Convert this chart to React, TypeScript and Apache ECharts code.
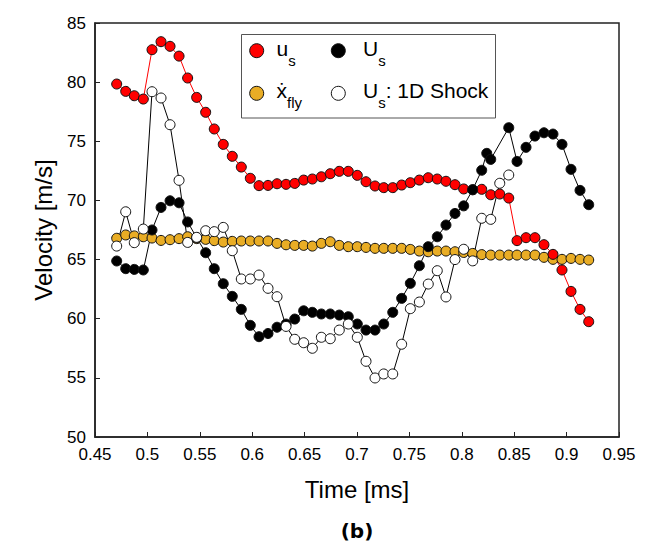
import React, { useEffect, useRef } from "react";
import * as echarts from "echarts";

// Time [ms] sample instants (shared by u_s, x_fly, Us 1D shock)
const times = [
  0.4707, 0.4793, 0.4875, 0.4961, 0.5044, 0.513, 0.5216, 0.5302, 0.5384, 0.547,
  0.5556, 0.5638, 0.5724, 0.581, 0.5896, 0.5982, 0.6065, 0.6151, 0.6237, 0.6323,
  0.6406, 0.6491, 0.6574, 0.666, 0.6745, 0.6831, 0.6917, 0.7003, 0.7086, 0.7172,
  0.7255, 0.7341, 0.7426, 0.7509, 0.7595, 0.768, 0.7766, 0.7849, 0.7935, 0.8018,
  0.8104, 0.819, 0.8276, 0.8362, 0.8448, 0.8527, 0.8613, 0.8698, 0.8784, 0.887,
  0.8956, 0.9042, 0.9128, 0.9211,
];

// u_s (red)
const usSmall = [
  79.84, 79.22, 78.85, 78.57, 82.74, 83.42, 83.03, 82.2, 80.35, 78.71,
  77.45, 76.04, 74.74, 73.73, 72.82, 71.87, 71.25, 71.27, 71.41, 71.36,
  71.44, 71.72, 71.81, 72.0, 72.26, 72.46, 72.46, 72.12, 71.58, 71.22,
  71.08, 71.08, 71.3, 71.5, 71.72, 71.92, 71.81, 71.62, 71.33, 70.97,
  70.9, 70.94, 70.48, 70.54, 70.2, 66.6, 66.85, 66.85, 66.26, 65.44,
  64.12, 62.31, 60.79, 59.75,
];

// x_fly (orange)
const xFly = [
  66.8, 67.08, 67.0, 66.93, 66.82, 66.62, 66.68, 66.77, 66.93, 66.77,
  66.71, 66.6, 66.48, 66.54, 66.57, 66.57, 66.57, 66.57, 66.37, 66.25,
  66.2, 66.2, 66.14, 66.37, 66.51, 66.2, 66.09, 66.09, 66.03, 65.95,
  65.95, 65.95, 65.95, 65.86, 65.72, 65.66, 65.72, 65.72, 65.66, 65.6,
  65.52, 65.42, 65.38, 65.38, 65.38, 65.38, 65.38, 65.38, 65.19, 65.02,
  65.02, 65.1, 65.02, 64.96,
];

// U_s (black)
const usBigTimes = [
  0.4707, 0.4793, 0.4875, 0.4961, 0.5044, 0.513, 0.5216, 0.5302, 0.5384, 0.547,
  0.5556, 0.5638, 0.5724, 0.581, 0.5896, 0.5982, 0.6065, 0.6151, 0.6237, 0.6323,
  0.6406, 0.6491, 0.6574, 0.666, 0.6745, 0.6831, 0.6917, 0.7003, 0.7086, 0.7172,
  0.7255, 0.7341, 0.7426, 0.7509, 0.7595, 0.768, 0.7766, 0.7849, 0.7935, 0.8018,
  0.8104, 0.819, 0.8238, 0.8276, 0.8448, 0.8527, 0.8613, 0.8698, 0.8784, 0.887,
  0.8956, 0.9042, 0.9128, 0.9211,
];
const usBig = [
  64.88, 64.23, 64.17, 64.12, 67.5, 69.41, 69.97, 69.8, 68.18, 66.85,
  65.58, 64.23, 62.96, 61.89, 60.79, 59.44, 58.48, 58.75, 59.28, 59.55,
  59.97, 60.67, 60.54, 60.4, 60.4, 60.31, 60.17, 59.55, 59.04, 59.04,
  59.55, 60.54, 61.72, 62.99, 64.48, 66.09, 66.93, 67.92, 68.9, 69.54,
  70.91, 72.55, 73.98, 73.47, 76.15, 73.3, 74.49, 75.44, 75.72, 75.61,
  74.74, 72.63, 70.85, 69.64,
];

// U_s: 1D Shock (white), first 45 instants
const us1D = [
  66.14, 69.04, 66.43, 67.58, 79.19, 78.66, 76.4, 71.7, 66.45, 66.88,
  67.44, 67.36, 67.72, 65.75, 63.36, 63.36, 63.69, 62.57, 61.86, 59.35,
  58.26, 57.97, 57.5, 58.43, 58.31, 59.04, 59.55, 58.43, 56.4, 54.99,
  55.33, 55.33, 57.84, 60.85, 61.41, 62.93, 64.06, 61.84, 65.0, 65.87,
  64.89, 68.49, 68.4, 71.45, 72.15,
];

const FONT = "'Liberation Sans', Arial, Helvetica, sans-serif";

export default function App() {
  const ref = useRef<HTMLDivElement>(null);
  useEffect(() => {
    if (!ref.current) return;
    document.body.style.margin = "0";
    const chart = echarts.init(ref.current, null, { renderer: "svg" });
    const mk = (fill: string) => ({
      color: fill,
      borderColor: "#111",
      borderWidth: 1,
    });
    const richStyle = {
      m: { fontSize: 21, fontFamily: FONT, fill: "#000", verticalAlign: "bottom", padding: [0, 0, 9, 0] },
      s: { fontSize: 15, fontFamily: FONT, fill: "#000", verticalAlign: "bottom" },
    };
    const legendText = (x: number, y: number, text: string) => ({
      type: "text",
      x,
      y,
      z: 101,
      style: { text, verticalAlign: "top", align: "left", rich: richStyle, fill: "#000" },
    });
    const legendDot = (cx: number, cy: number, fill: string) => ({
      type: "circle",
      z: 101,
      shape: { cx, cy, r: 7 },
      style: { fill, stroke: "#111", lineWidth: 1 },
    });
    chart.setOption({
      animation: false,
      grid: {
        left: 95,
        top: 23,
        right: 31,
        bottom: 108,
        show: true,
        borderColor: "#222",
        borderWidth: 1.5,
        backgroundColor: "transparent",
      },
      xAxis: {
        type: "value",
        min: 0.45,
        max: 0.95,
        interval: 0.05,
        name: "Time [ms]",
        nameLocation: "middle",
        nameGap: 40,
        nameTextStyle: { fontSize: 24, fontFamily: FONT, color: "#000" },
        axisLine: { show: true, lineStyle: { color: "#222", width: 1.5 } },
        axisTick: { show: true, inside: true, length: 5, lineStyle: { color: "#222", width: 1 } },
        axisLabel: {
          fontSize: 17,
          fontFamily: FONT,
          color: "#000",
          margin: 9,
          formatter: (v: number) => String(parseFloat(v.toFixed(2))),
        },
        splitLine: { show: false },
      },
      yAxis: {
        type: "value",
        min: 50,
        max: 85,
        interval: 5,
        name: "Velocity [m/s]",
        nameLocation: "middle",
        nameGap: 40,
        nameTextStyle: { fontSize: 24, fontFamily: FONT, color: "#000" },
        axisLine: { show: true, lineStyle: { color: "#222", width: 1.5 } },
        axisTick: { show: true, inside: true, length: 5, lineStyle: { color: "#222", width: 1 } },
        axisLabel: { fontSize: 17, fontFamily: FONT, color: "#000", margin: 9 },
        splitLine: { show: false },
      },
      series: [
        {
          name: "x_fly",
          type: "line",
          data: times.map((t, i) => [t, xFly[i]]),
          symbol: "circle",
          symbolSize: 10,
          itemStyle: mk("#e9ad25"),
          lineStyle: { color: "#333", width: 1 },
        },
        {
          name: "u_s",
          type: "line",
          data: times.map((t, i) => [t, usSmall[i]]),
          symbol: "circle",
          symbolSize: 10,
          itemStyle: mk("#ff0000"),
          lineStyle: { color: "#ff0000", width: 1 },
        },
        {
          name: "U_s",
          type: "line",
          data: usBigTimes.map((t, i) => [t, usBig[i]]),
          symbol: "circle",
          symbolSize: 10,
          itemStyle: mk("#000000"),
          lineStyle: { color: "#000", width: 1 },
        },
        {
          name: "U_s: 1D Shock",
          type: "line",
          data: us1D.map((v, i) => [times[i], v]),
          symbol: "circle",
          symbolSize: 10,
          itemStyle: mk("#ffffff"),
          lineStyle: { color: "#000", width: 1 },
        },
      ],
      graphic: [
        {
          type: "rect",
          z: 100,
          shape: { x: 241.5, y: 34.5, width: 254, height: 83.5 },
          style: { fill: "#fff", stroke: "#555", lineWidth: 1 },
        },
        legendDot(256.7, 50.7, "#ff0000"),
        legendDot(338.3, 50.7, "#000000"),
        legendDot(256.7, 93.3, "#e9ad25"),
        legendDot(338.3, 93.3, "#ffffff"),
        legendText(276.5, 38, "{m|u}{s|s}"),
        legendText(363, 38, "{m|U}{s|s}"),
        legendText(276.5, 79.5, "{m|ẋ}{s|fly}"),
        legendText(363, 79.5, "{m|U}{s|s}{m|: 1D Shock}"),
        {
          type: "text",
          x: 357,
          y: 531,
          style: {
            text: "(b)",
            align: "center",
            verticalAlign: "middle",
            fontSize: 20,
            fontWeight: "bold",
            fontFamily: "'DejaVu Sans', Verdana, sans-serif",
            fill: "#000",
          },
        },
      ],
    });
    return () => chart.dispose();
  }, []);
  return <div ref={ref} style={{ width: 650, height: 545 }} />;
}
